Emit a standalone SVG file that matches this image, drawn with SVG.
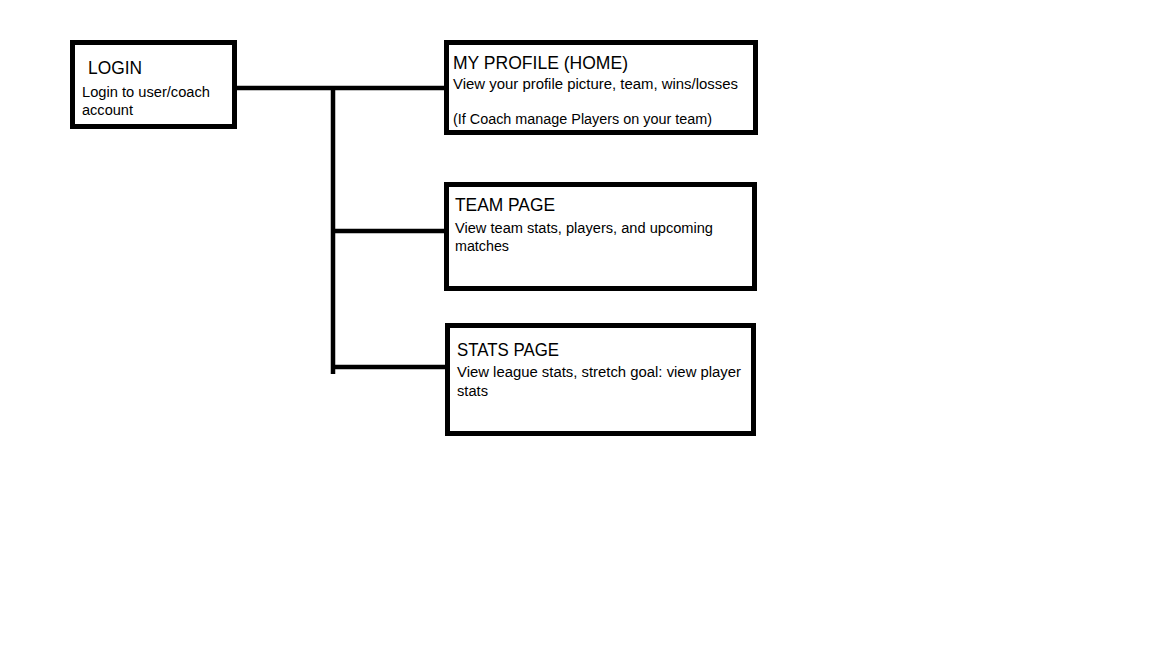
<svg xmlns="http://www.w3.org/2000/svg" width="1152" height="648" viewBox="0 0 1152 648">
<style>
.box{fill:#fff;stroke:#000;stroke-width:5}
.t{font-family:"Liberation Sans",Arial,sans-serif;font-size:18px;fill:#000}
.b{font-family:"Liberation Sans",Arial,sans-serif;font-size:14px;fill:#000}
.c{stroke:#000;stroke-width:4.5;fill:none}
</style>
<rect width="1152" height="648" fill="#fff"/>
<g id="connectors">
<line class="c" x1="236" y1="88" x2="446" y2="88"/>
<line class="c" x1="333" y1="86" x2="333" y2="374"/>
<line class="c" x1="333" y1="231" x2="446" y2="231"/>
<line class="c" x1="333" y1="367" x2="447" y2="367"/>
</g>
<g id="login">
<rect class="box" x="72.5" y="42.5" width="162" height="84"/>
<text class="t" x="88" y="74" textLength="54" lengthAdjust="spacingAndGlyphs">LOGIN</text>
<text class="b" x="82" y="97" textLength="128" lengthAdjust="spacingAndGlyphs">Login to user/coach</text>
<text class="b" x="82" y="115" textLength="51" lengthAdjust="spacingAndGlyphs">account</text>
</g>
<g id="profile">
<rect class="box" x="446.5" y="42.5" width="309" height="90"/>
<text class="t" x="453" y="69" textLength="175" lengthAdjust="spacingAndGlyphs">MY PROFILE (HOME)</text>
<text class="b" x="453" y="89" textLength="285" lengthAdjust="spacingAndGlyphs">View your profile picture, team, wins/losses</text>
<text class="b" x="453" y="124" textLength="259" lengthAdjust="spacingAndGlyphs">(If Coach manage Players on your team)</text>
</g>
<g id="team">
<rect class="box" x="446.5" y="184.5" width="308" height="104"/>
<text class="t" x="455" y="211" textLength="100" lengthAdjust="spacingAndGlyphs">TEAM PAGE</text>
<text class="b" x="455" y="233" textLength="258" lengthAdjust="spacingAndGlyphs">View team stats, players, and upcoming</text>
<text class="b" x="455" y="251" textLength="54" lengthAdjust="spacingAndGlyphs">matches</text>
</g>
<g id="stats">
<rect class="box" x="447.5" y="325.5" width="306" height="108"/>
<text class="t" x="457" y="356" textLength="102" lengthAdjust="spacingAndGlyphs">STATS PAGE</text>
<text class="b" x="457" y="377" textLength="284" lengthAdjust="spacingAndGlyphs">View league stats, stretch goal: view player</text>
<text class="b" x="457" y="396" textLength="31" lengthAdjust="spacingAndGlyphs">stats</text>
</g>
</svg>
